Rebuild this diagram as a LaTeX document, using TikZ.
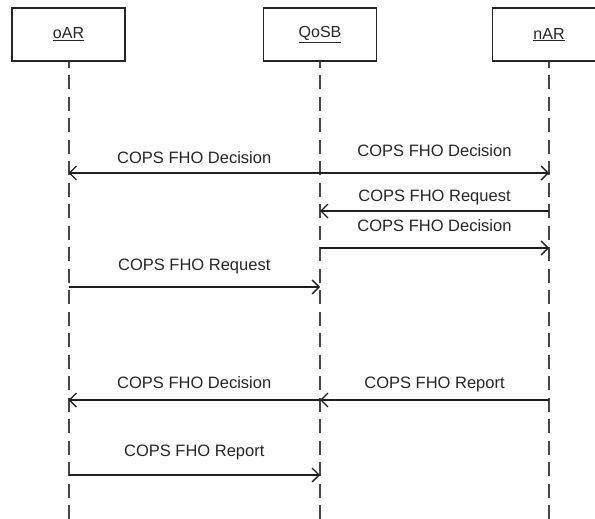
\documentclass[tikz,border=0pt]{standalone}
\usepackage{fontspec}
\setmainfont{Liberation Sans}
\usetikzlibrary{arrows.meta}
\begin{document}
\begin{tikzpicture}[x=1pt,y=-1pt,
  actor/.style={draw=black!85, line width=1.5pt, minimum width=113pt,
    minimum height=53pt, inner sep=0pt, font=\fontsize{16}{19}\selectfont, text=black!85},
  lifeline/.style={draw=black!72, line width=2pt,
    dash pattern=on 14pt off 7.5pt, dash phase=8pt},
  msg/.style={draw=black!88, line width=1.3pt,
    -{Straight Barb[length=7pt,width=14pt,line width=1.3pt]}},
  lbl/.style={font=\fontsize{16.5}{19}\selectfont, text=black!85,
    inner sep=0pt, anchor=base, midway}]
\useasboundingbox (0,0) rectangle (595,519);
\clip (0,0) rectangle (595,519);

% participants
\node[actor] (oAR)  at (68.5,34.5) {\underline{oAR}};
\node[actor] (QoSB) at (320,34.5)  {\underline{QoSB}};
\node[actor] (nAR)  at (549,34.5)  {\underline{nAR}};

% lifeline ends
\coordinate (oEnd) at (68.5,519);
\coordinate (qEnd) at (320,519);
\coordinate (nEnd) at (549,519);
\draw[lifeline] (oAR.south)  -- (oEnd);
\draw[lifeline] (QoSB.south) -- (qEnd);
\draw[lifeline] (nAR.south)  -- (nEnd);

% message anchor points on the lifelines
\coordinate (o1) at (68.5,173);  \coordinate (q1) at (320,173); \coordinate (n1) at (549,173);
\coordinate (q2) at (320,211);   \coordinate (n2) at (549,211);
\coordinate (q3) at (320,248);   \coordinate (n3) at (549,248);
\coordinate (o4) at (68.5,287);  \coordinate (q4) at (320,287);
\coordinate (o5) at (68.5,400);  \coordinate (q5) at (320,400); \coordinate (n5) at (549,400);
\coordinate (o6) at (68.5,475);  \coordinate (q6) at (320,475);

% messages
\draw[msg] (q1) -- node[lbl, yshift=10pt] {COPS FHO Decision} (o1);
\draw[msg] (q1) -- node[lbl, yshift=17pt] {COPS FHO Decision} (n1);
\draw[msg] (n2) -- node[lbl, yshift=10pt] {COPS FHO Request} (q2);
\draw[msg] (q3) -- node[lbl, yshift=17pt] {COPS FHO Decision} (n3);
\draw[msg] (o4) -- node[lbl, yshift=17pt] {COPS FHO Request} (q4);
\draw[msg] (q5) -- node[lbl, yshift=12pt] {COPS FHO Decision} (o5);
\draw[msg] (n5) -- node[lbl, yshift=12pt] {COPS FHO Report} (q5);
\draw[msg] (o6) -- node[lbl, yshift=19pt] {COPS FHO Report} (q6);
\end{tikzpicture}
\end{document}
